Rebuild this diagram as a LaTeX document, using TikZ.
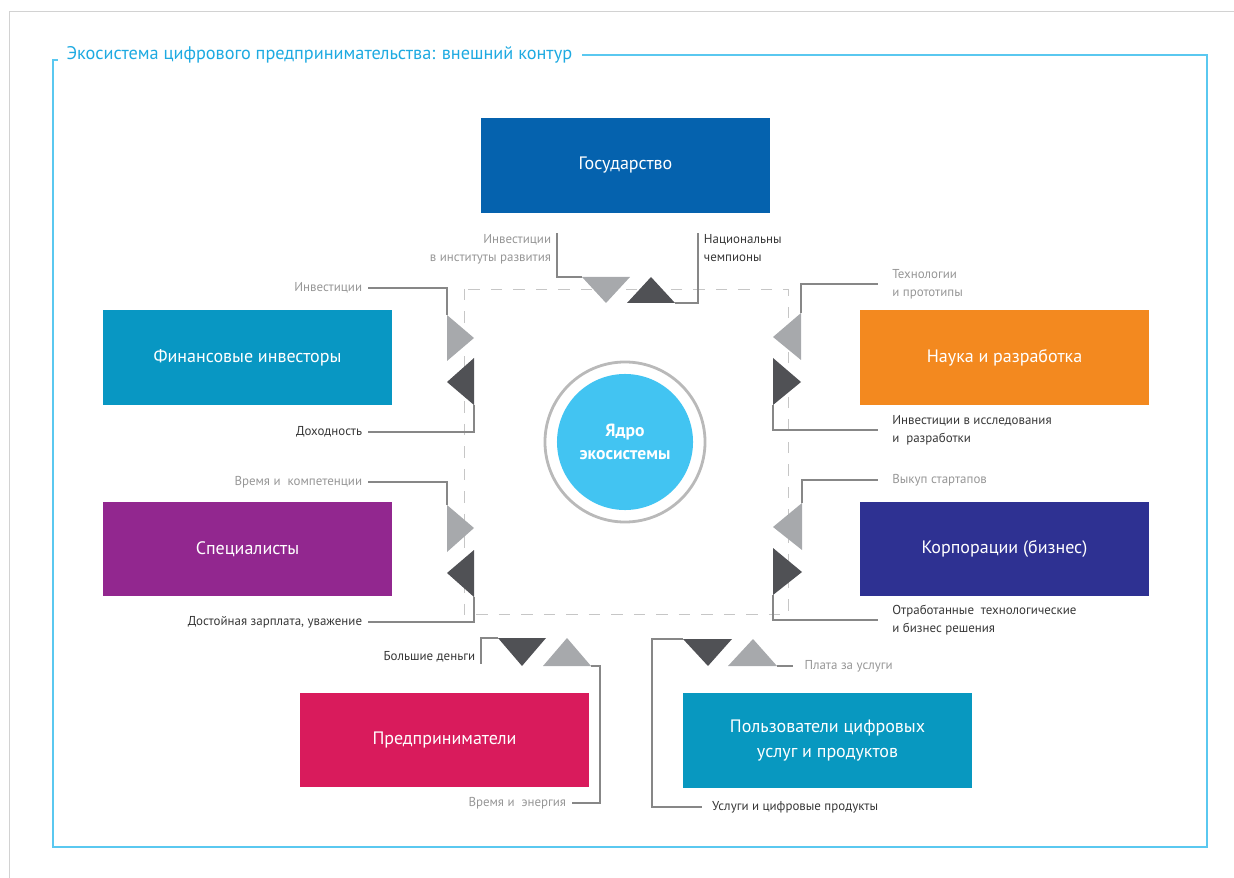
\documentclass[tikz,border=0pt]{standalone}
\usepackage{fontspec}
\setmainfont{PT Sans}
\usepackage{tikz}

\definecolor{gosblue}{RGB}{5,98,174}
\definecolor{finteal}{RGB}{8,151,195}
\definecolor{naukaorange}{RGB}{243,137,31}
\definecolor{specpurple}{RGB}{146,39,143}
\definecolor{corpnavy}{RGB}{46,49,146}
\definecolor{predcrimson}{RGB}{217,27,92}
\definecolor{polzteal}{RGB}{8,152,192}
\definecolor{coreblue}{RGB}{66,196,242}
\definecolor{framecyan}{RGB}{90,200,240}
\definecolor{titlecyan}{RGB}{30,170,225}
\definecolor{trilight}{RGB}{167,169,172}
\definecolor{tridark}{RGB}{80,81,85}
\definecolor{linkgray}{RGB}{135,135,135}
\definecolor{lbllight}{RGB}{150,150,150}
\definecolor{lbldark}{RGB}{55,55,55}

\begin{document}
\begin{tikzpicture}[x=0.025cm, y=-0.025cm,
	box/.style={fill=#1, text=white, minimum width=7.225cm, minimum height=2.35cm, align=center, font=\fontsize{12.8}{17.5}\selectfont},
	lbl/.style={text=#1, font=\fontsize{9.2}{12.5}\selectfont, inner xsep=4pt, inner ysep=1pt},
	link/.style={draw=linkgray, line width=1pt},
	light/.style={fill=trilight},
	dark/.style={fill=tridark}]
%	\draw[help lines] (0,0) grid[step=100] (1234,878);
	\useasboundingbox (0,0) rectangle (1234,878);

	% page edge and outer contour
	\draw[gray!35, line width=0.7pt] (9,878) -- (9,11) -- (1234,11);
	\node[anchor=west, text=titlecyan, font=\fontsize{13}{15}\selectfont, inner xsep=3pt] (title) at (62,55) {Экосистема цифрового предпринимательства: внешний контур};
	\draw[framecyan, line width=1.6pt] ([xshift=4pt]title.east) -- (1207,55) -- (1207,847) -- (53,847) -- (53,60) -- (58,60);

	% actors
	\node[box=gosblue] (gos) at (625.5,165.5) {Государство};
	\node[box=finteal] (fin) at (247.5,357.5) {Финансовые инвесторы};
	\node[box=naukaorange] (nauka) at (1004.5,357.5) {Наука и разработка};
	\node[box=specpurple] (spec) at (247.5,549) {Специалисты};
	\node[box=corpnavy] (corp) at (1004.5,549) {Корпорации (бизнес)};
	\node[box=predcrimson] (predpr) at (444.5,740) {Предприниматели};
	\node[box=polzteal] (polz) at (827.5,740.5) {Пользователи цифровых\\услуг и продуктов};

	% core
	\draw[gray!45, dashed, dash pattern=on 8pt off 8pt, line width=0.7pt] (464,289) rectangle (788,614);
	\node[circle, fill=coreblue, minimum size=3.4cm, text=white, align=center, font=\fontsize{12.5}{16}\selectfont\bfseries] (core) at (625,442) {Ядро\\экосистемы};
	\draw[gray!55, line width=2pt] (core.center) circle (2cm);

	% triangles
	\fill[light] (582,277) coordinate (gosIn) -- (630,277) -- (606,303) -- cycle;
	\fill[dark] (627,303) -- (675,303) coordinate (gosOut) -- (651,277) -- cycle;
	\fill[light] (447,315) coordinate (finIn) -- (447,361) -- (474,338) -- cycle;
	\fill[dark] (474,358) -- (474,405) coordinate (finOut) -- (447,382) -- cycle;
	\fill[light] (801,313) coordinate (naukaIn) -- (801,360) -- (773,337) -- cycle;
	\fill[dark] (773,358) -- (773,405) coordinate (naukaOut) -- (801,382) -- cycle;
	\fill[light] (447,505) coordinate (specIn) -- (447,552) -- (474,528) -- cycle;
	\fill[dark] (474,550) -- (474,597) coordinate (specOut) -- (447,573) -- cycle;
	\fill[light] (802,503) coordinate (corpIn) -- (802,550) -- (773,527) -- cycle;
	\fill[dark] (773,548) -- (773,595) coordinate (corpOut) -- (802,572) -- cycle;
	\fill[dark] (498,638) coordinate (predOut) -- (546,638) -- (522,666) -- cycle;
	\fill[light] (543,666) -- (591,666) coordinate (predIn) -- (567,638) -- cycle;
	\fill[dark] (683,639) coordinate (polzOut) -- (732,639) -- (708,666) -- cycle;
	\fill[light] (728,666) -- (777,666) coordinate (polzIn) -- (753,639) -- cycle;

	% flow labels
	\node[lbl=lbllight, anchor=north east, align=right] (invInst) at (557,233) {Инвестиции\\в институты развития};
	\node[lbl=lbldark, anchor=north west, align=left] (champ) at (698,233) {Национальны\\чемпионы};
	\node[lbl=lbllight, anchor=east] (invFin) at (368,288) {Инвестиции};
	\node[lbl=lbldark, anchor=east] (dohod) at (368,432) {Доходность};
	\node[lbl=lbllight, anchor=east] (vremKomp) at (368,482) {Время и\ \ компетенции};
	\node[lbl=lbldark, anchor=east] (zarplata) at (368,622) {Достойная зарплата, уважение};
	\node[lbl=lbllight, anchor=west, align=left, inner xsep=10pt] (techProt) at (878,284) {Технологии\\и прототипы};
	\node[lbl=lbldark, anchor=west, align=left, inner xsep=10pt] (invRes) at (878,430) {Инвестиции в исследования\\и\ \ разработки};
	\node[lbl=lbllight, anchor=west, inner xsep=10pt] (vykup) at (878,480) {Выкуп стартапов};
	\node[lbl=lbldark, anchor=west, align=left, inner xsep=10pt] (otrab) at (878,620) {Отработанные\ \ технологические\\и бизнес решения};
	\node[lbl=lbldark, anchor=east] (money) at (481,657) {Большие деньги};
	\node[lbl=lbllight, anchor=east] (vremEn) at (572,803) {Время и\ \ энергия};
	\node[lbl=lbldark, anchor=west, inner xsep=7pt] (uslugi) at (702,807) {Услуги и цифровые продукты};
	\node[lbl=lbllight, anchor=west, inner xsep=8pt] (plata) at (793,666) {Плата за услуги};

	% connectors
	\draw[link] (gosIn) -| (invInst.north east);
	\draw[link] (gosOut) -| (champ.north west);
	\draw[link] (finIn) |- (invFin.east);
	\draw[link] (finOut) |- (dohod.east);
	\draw[link] (specIn) |- (vremKomp.east);
	\draw[link] (specOut) |- (zarplata.east);
	\draw[link] (naukaIn) |- (techProt.west);
	\draw[link] (naukaOut) |- (invRes.west);
	\draw[link] (corpIn) |- (vykup.west);
	\draw[link] (corpOut) |- (otrab.west);
	\draw[link] (predOut) -| (money.south east);
	\draw[link] (predIn) -- ++(9,0) |- (vremEn.east);
	\draw[link] (polzOut) -- ++(-31,0) |- (uslugi.west);
	\draw[link] (polzIn) -- (plata.west);
\end{tikzpicture}
\end{document}
